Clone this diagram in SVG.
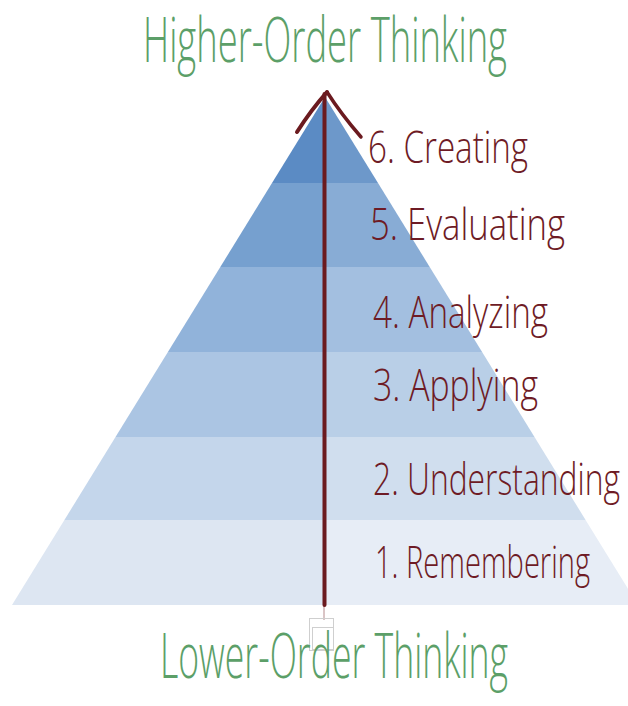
<svg xmlns="http://www.w3.org/2000/svg" width="628" height="706" viewBox="0 0 628 706">
  <style>
    .title { font-family: "Open Sans", "Liberation Sans", sans-serif; font-weight: 300; font-size: 62px; fill: #5c9f68; }
    .label { font-family: "Open Sans", "Liberation Sans", sans-serif; font-weight: 300; font-size: 45px; fill: #6e1b25; }
    .arrow { fill: none; stroke: #6b1a1f; stroke-linecap: round; stroke-linejoin: round; }
    .ghost { fill: none; stroke: #cfcfcf; stroke-width: 1; }
  </style>
  <rect width="628" height="706" fill="#ffffff"/>

  <g id="title-higher">
    <text class="title" x="143" y="62" textLength="364" lengthAdjust="spacingAndGlyphs">Higher-Order Thinking</text>
  </g>

  <g id="level-6">
    <polygon points="325,97 325,183 272,183" fill="#5b8bc4"/>
    <polygon points="325,97 378,183 325,183" fill="#6d98ca"/>
    <text class="label" x="368" y="163" textLength="160" lengthAdjust="spacingAndGlyphs">6. Creating</text>
  </g>
  <g id="level-5">
    <polygon points="272,183 325,183 325,267 220.3,267" fill="#76a0cf"/>
    <polygon points="325,183 378,183 429.7,267 325,267" fill="#88acd5"/>
    <text class="label" x="370" y="240" textLength="195" lengthAdjust="spacingAndGlyphs">5. Evaluating</text>
  </g>
  <g id="level-4">
    <polygon points="220.3,267 325,267 325,352 167.9,352" fill="#91b3da"/>
    <polygon points="325,267 429.7,267 482.1,352 325,352" fill="#a3bfe0"/>
    <text class="label" x="373" y="328" textLength="175" lengthAdjust="spacingAndGlyphs">4. Analyzing</text>
  </g>
  <g id="level-3">
    <polygon points="167.9,352 325,352 325,437 115.5,437" fill="#abc5e3"/>
    <polygon points="325,352 482.1,352 534.5,437 325,437" fill="#b9cfe7"/>
    <text class="label" x="373" y="401" textLength="165" lengthAdjust="spacingAndGlyphs">3. Applying</text>
  </g>
  <g id="level-2">
    <polygon points="115.5,437 325,437 325,520 64.4,520" fill="#c4d6eb"/>
    <polygon points="325,437 534.5,437 585.6,520 325,520" fill="#d0deee"/>
    <text class="label" x="373" y="495" textLength="247" lengthAdjust="spacingAndGlyphs">2. Understanding</text>
  </g>
  <g id="level-1">
    <polygon points="64.4,520 325,520 325,605 12,605" fill="#dde6f2"/>
    <polygon points="325,520 585.6,520 638,605 325,605" fill="#e7edf6"/>
    <text class="label" x="375" y="578" textLength="215" lengthAdjust="spacingAndGlyphs">1. Remembering</text>
  </g>

  <g id="connectors">
    <line x1="324" y1="605" x2="324" y2="620" stroke="#b58a8c" stroke-width="1"/>
    <path class="arrow" stroke-width="4" d="M324.5,605 L324.5,94"/>
    <path class="arrow" stroke-width="4" d="M297,132 Q311,110 327,92"/>
    <path class="arrow" stroke-width="3.5" d="M327,92 Q341,114 361,137"/>
    <rect class="ghost" x="309.5" y="618.5" width="24" height="32"/>
    <rect class="ghost" x="312.5" y="627.5" width="21" height="22"/>
  </g>

  <g id="title-lower">
    <text class="title" x="160" y="678" textLength="348" lengthAdjust="spacingAndGlyphs">Lower-Order Thinking</text>
  </g>
</svg>
